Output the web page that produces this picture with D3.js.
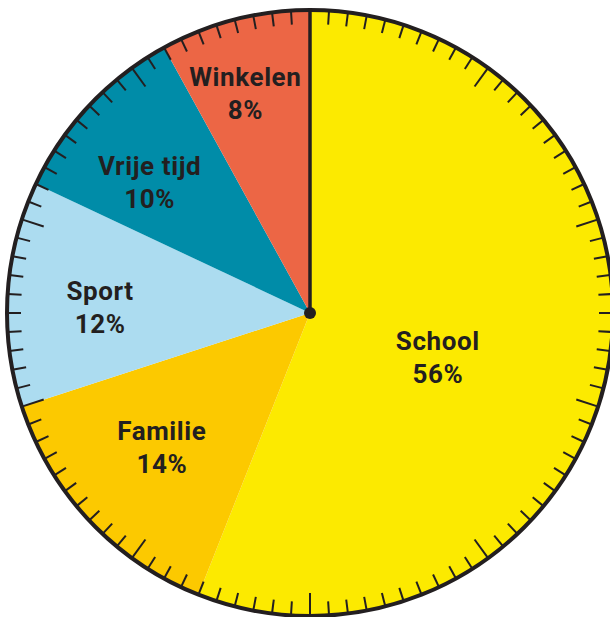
<!DOCTYPE html>
<html>
<head>
<meta charset="utf-8">
<script src="https://cdn.jsdelivr.net/npm/d3@7"></script>
<style>
  body { margin: 0; background: #fff; }
  svg { display: block; }
</style>
</head>
<body>
<svg width="610" height="617"></svg>
<script>
/* global d3 */
// data
var categories = ['School', 'Familie', 'Sport', 'Vrije tijd', 'Winkelen']
var values = [56, 14, 12, 10, 8]
var colors = ['#fcea00', '#fcc900', '#acdcf0', '#008ca8', '#ec6645']

var svg = d3.select('svg')
var cx = 310
var cy = 313
var radius = 303
var ink = '#231f20'

// label placement: radius + angle nudge (degrees) per slice
var labelR = [135, 200, 210, 207, 229]
var labelNudge = [8, 1, -2, -4, -2]

var g = svg.append('g').attr('transform', 'translate(' + cx + ',' + cy + ')')

var pie = d3.pie().sort(null).value(function (d) { return d.value })
var arcs = pie(categories.map(function (c, i) { return { name: c, value: values[i], color: colors[i] } }))

var arc = d3.arc().innerRadius(0).outerRadius(radius)

g.selectAll('path.slice')
  .data(arcs)
  .enter().append('path')
    .attr('class', 'slice')
    .attr('d', arc)
    .attr('fill', function (d) { return d.data.color })

// percent ticks round the rim
var angle = d3.scaleLinear().domain([0, 100]).range([0, 2 * Math.PI])
g.selectAll('line.tick')
  .data(d3.range(100))
  .enter().append('line')
    .attr('class', 'tick')
    .attr('x1', function (d) { return Math.sin(angle(d)) * radius })
    .attr('y1', function (d) { return -Math.cos(angle(d)) * radius })
    .attr('x2', function (d) {
      var len = d % 10 === 0 ? 23 : 14
      return Math.sin(angle(d)) * (radius - len)
    })
    .attr('y2', function (d) {
      var len = d % 10 === 0 ? 23 : 14
      return -Math.cos(angle(d)) * (radius - len)
    })
    .attr('stroke', ink)
    .attr('stroke-width', 2)

// rim
g.append('circle')
  .attr('r', radius)
  .attr('fill', 'none')
  .attr('stroke', ink)
  .attr('stroke-width', 4)

// hand at zero
g.append('line')
  .attr('x1', 0).attr('y1', 0)
  .attr('x2', 0).attr('y2', -radius)
  .attr('stroke', ink)
  .attr('stroke-width', 3.5)

g.append('circle')
  .attr('r', 6)
  .attr('fill', ink)

// labels
var labels = g.selectAll('g.label')
  .data(arcs)
  .enter().append('g')
    .attr('class', 'label')
    .attr('transform', function (d, i) {
      var a = (d.startAngle + d.endAngle) / 2 + labelNudge[i] * Math.PI / 180
      var c = d3.arc().innerRadius(labelR[i]).outerRadius(labelR[i])
        .startAngle(a).endAngle(a).centroid()
      return 'translate(' + c[0] + ',' + c[1] + ')'
    })

labels.append('text')
  .attr('y', -7)
  .text(function (d) { return d.data.name })
labels.append('text')
  .attr('y', 26)
  .text(function (d) { return d.data.value + '%' })

labels.selectAll('text')
  .attr('text-anchor', 'middle')
  .attr('fill', ink)
  .style('font-family', 'Roboto, sans-serif')
  .style('font-weight', 'bold')
  .style('font-size', '26px')
  .style('letter-spacing', '0.6px')
</script>
</body>
</html>
